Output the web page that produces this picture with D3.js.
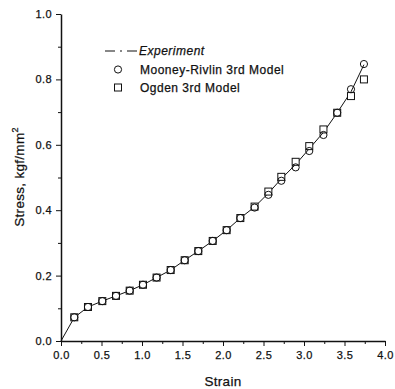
<!DOCTYPE html>
<html>
<head>
<meta charset="utf-8">
<script src="https://cdn.jsdelivr.net/npm/d3@7"></script>
<style>
  body { margin: 0; background: #fff; }
  svg { font-family: "Liberation Sans", Arial, sans-serif; }
  .axis path, .axis line { stroke: #111; }
  .axis text { font-size: 11px; fill: #111; stroke: #111; stroke-width: 0.25; letter-spacing: 0.4px; }
  .axis-label { font-size: 13.5px; fill: #111; stroke: #111; stroke-width: 0.25; letter-spacing: 0.3px; }
  .legend-text { font-size: 12px; fill: #111; stroke: #111; stroke-width: 0.25; letter-spacing: 0.5px; }
</style>
</head>
<body>
<div class="content"></div>
<script>
// strain values of the model points
const strain = [0.164, 0.333, 0.51, 0.679, 0.848, 1.012, 1.18, 1.354, 1.527, 1.695, 1.873,
  2.045, 2.214, 2.39, 2.56, 2.72, 2.897, 3.065, 3.24, 3.41, 3.58, 3.74];

const mooney = [0.0725, 0.104, 0.122, 0.138, 0.154, 0.172, 0.194, 0.217, 0.247, 0.275, 0.306,
  0.339, 0.376, 0.408, 0.447, 0.49, 0.531, 0.581, 0.63, 0.698, 0.77, 0.847];

const ogden = [0.0725, 0.104, 0.122, 0.138, 0.154, 0.172, 0.194, 0.217, 0.247, 0.275, 0.306,
  0.339, 0.376, 0.411, 0.457, 0.502, 0.548, 0.596, 0.647, 0.698, 0.749, 0.8];

const expStrain = [0, 0.164, 0.333, 0.51, 0.679, 0.848, 1.012, 1.18, 1.354, 1.527, 1.695, 1.873,
  2.045, 2.214, 2.39, 2.56, 2.72, 2.897, 3.065, 3.24, 3.41, 3.58, 3.74];
const expStress = [0, 0.072, 0.104, 0.122, 0.138, 0.154, 0.172, 0.194, 0.217, 0.247, 0.275, 0.306,
  0.339, 0.376, 0.41, 0.452, 0.496, 0.54, 0.588, 0.638, 0.698, 0.762, 0.845];

const xTicks = [0, 0.5, 1, 1.5, 2, 2.5, 3, 3.5, 4];
const yTicks = [0, 0.2, 0.4, 0.6, 0.8, 1.0];

const W = 395, H = 389;
const x0 = 61, x1 = 385, y0 = 341, y1 = 14;

const xScale = d3.scaleLinear().domain([0, 4]).range([x0, x1]);
const yScale = d3.scaleLinear().domain([0, 1]).range([y0, y1]);

const svg = d3.select(".content").append("svg")
  .attr("width", W).attr("height", H);

//--> minor ticks
const xMinor = d3.range(0.25, 4, 0.5);
const yMinor = d3.range(0.1, 1, 0.2);

svg.append("g").attr("class", "axis")
  .attr("transform", `translate(0, ${y0})`)
  .call(d3.axisBottom(xScale).tickValues(xMinor).tickSize(3).tickFormat(""))
  .call(g => g.select(".domain").remove());

svg.append("g").attr("class", "axis")
  .attr("transform", `translate(${x0}, 0)`)
  .call(d3.axisLeft(yScale).tickValues(yMinor).tickSize(3).tickFormat(""))
  .call(g => g.select(".domain").remove());

//--> X axis
svg.append("g").attr("class", "axis")
  .attr("transform", `translate(0, ${y0})`)
  .call(d3.axisBottom(xScale).tickValues(xTicks).tickSize(5).tickSizeOuter(0)
    .tickPadding(5).tickFormat(d3.format(".1f")))
  .call(g => g.select(".domain").attr("stroke-width", 1.5));

//--> Y axis
svg.append("g").attr("class", "axis")
  .attr("transform", `translate(${x0}, 0)`)
  .call(d3.axisLeft(yScale).tickValues(yTicks).tickSize(5).tickSizeOuter(0)
    .tickPadding(4).tickFormat(d3.format(".1f")))
  .call(g => g.select(".domain").attr("stroke-width", 1.5));

//--> axis labels
svg.append("text").attr("class", "axis-label")
  .attr("x", (x0 + x1) / 2).attr("y", 386)
  .attr("text-anchor", "middle")
  .text("Strain");

const yl = svg.append("text").attr("class", "axis-label")
  .attr("transform", `translate(24, ${177}) rotate(-90)`)
  .attr("text-anchor", "middle");
yl.append("tspan").text("Stress, kgf/mm");
yl.append("tspan").attr("dy", -6).attr("font-size", "9px").text("2");

//--> experiment line
const line = d3.line().x(d => xScale(d[0])).y(d => yScale(d[1]));
svg.append("path")
  .datum(expStrain.map((s, i) => [s, expStress[i]]))
  .attr("d", line)
  .attr("fill", "none")
  .attr("stroke", "#111")
  .attr("stroke-width", 1);

//--> Ogden squares
svg.selectAll(".sq").data(strain.map((s, i) => [s, ogden[i]])).enter()
  .append("rect").attr("class", "sq")
  .attr("x", d => xScale(d[0]) - 3.5)
  .attr("y", d => yScale(d[1]) - 3.5)
  .attr("width", 7).attr("height", 7)
  .attr("fill", "#fff").attr("stroke", "#111").attr("stroke-width", 1);

//--> Mooney-Rivlin circles
svg.selectAll(".ci").data(strain.map((s, i) => [s, mooney[i]])).enter()
  .append("circle").attr("class", "ci")
  .attr("cx", d => xScale(d[0]))
  .attr("cy", d => yScale(d[1]))
  .attr("r", 3.6)
  .attr("fill", "none").attr("stroke", "#111").attr("stroke-width", 1);

//--> legend
const legend = svg.append("g").attr("transform", "translate(105, 51)");
legend.append("line")
  .attr("x1", 0).attr("x2", 33).attr("y1", 0).attr("y2", 0)
  .attr("stroke", "#111").attr("stroke-width", 1.2)
  .attr("stroke-dasharray", "10,5,2,5,10");
legend.append("text").attr("class", "legend-text")
  .attr("x", 34).attr("y", 4).attr("font-style", "italic")
  .text("Experiment");
legend.append("circle")
  .attr("cx", 13).attr("cy", 18.5).attr("r", 3.6)
  .attr("fill", "none").attr("stroke", "#111");
legend.append("text").attr("class", "legend-text")
  .attr("x", 35).attr("y", 23).text("Mooney-Rivlin 3rd Model");
legend.append("rect")
  .attr("x", 9.5).attr("y", 33).attr("width", 7).attr("height", 7)
  .attr("fill", "#fff").attr("stroke", "#111");
legend.append("text").attr("class", "legend-text")
  .attr("x", 35).attr("y", 41).text("Ogden 3rd Model");
</script>
</body>
</html>
